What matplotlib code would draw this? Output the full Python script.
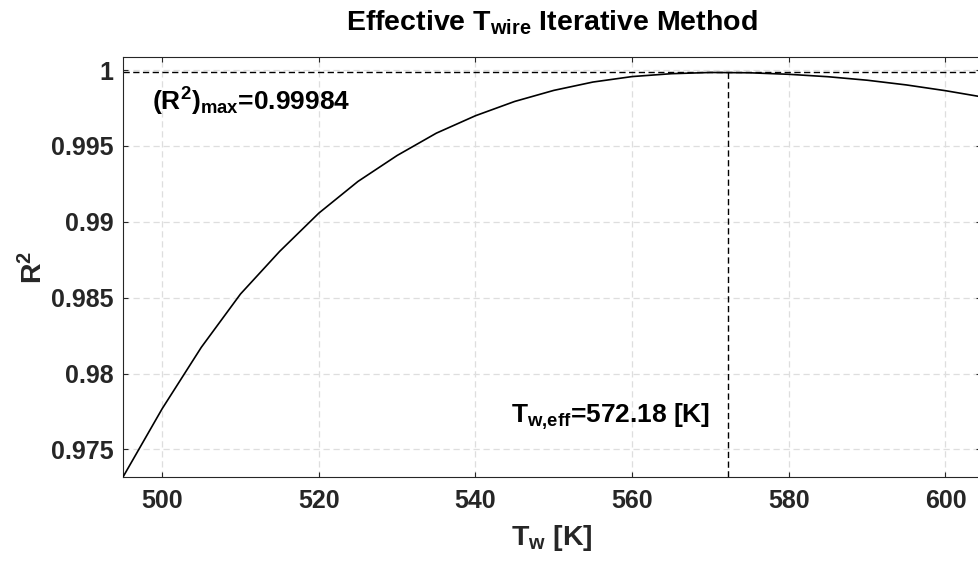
import matplotlib
matplotlib.use("Agg")
import matplotlib.pyplot as plt

# values (every 5 K)
t_wire = [495, 500, 505, 510, 515, 520, 525, 530, 535, 540, 545, 550,
          555, 560, 565, 570, 575, 580, 585, 590, 595, 600, 605]
r2 = [0.97318, 0.97768, 0.98173, 0.98524, 0.98805, 0.99057, 0.99266,
      0.99437, 0.99584, 0.99699, 0.99793, 0.99866, 0.99921, 0.99957,
      0.99976, 0.99984, 0.99982, 0.99972, 0.99956, 0.99933, 0.99902,
      0.99864, 0.99820]
t_eff = 572.18
r2_max = 0.99984
x_ticks = [500, 520, 540, 560, 580, 600]
y_ticks = [0.975, 0.98, 0.985, 0.99, 0.995, 1.0]
y_ticklabels = ["0.975", "0.98", "0.985", "0.99", "0.995", "1"]

plt.rcParams["font.family"] = ["Liberation Sans", "DejaVu Sans"]
plt.rcParams["font.weight"] = "bold"
plt.rcParams["axes.labelweight"] = "bold"
plt.rcParams["axes.titleweight"] = "bold"
plt.rcParams["mathtext.fontset"] = "custom"
plt.rcParams["mathtext.rm"] = "Liberation Sans:bold"
plt.rcParams["mathtext.bf"] = "Liberation Sans:bold"
plt.rcParams["mathtext.it"] = "Liberation Sans:bold"

ink = "#262626"
fig = plt.figure(figsize=(9.79, 5.63), dpi=100)
ax = fig.add_axes([123 / 979, 86 / 563, 858.5 / 979, 420 / 563])

ax.plot(t_wire, r2, color="black", lw=1.2, zorder=3)
ax.axhline(r2_max, color="black", lw=1.0, ls=(0, (4.5, 2.5)), zorder=2)
ax.plot([t_eff, t_eff], [r2[0], r2_max], color="black", lw=1.0,
        ls=(0, (4.5, 2.5)), zorder=2)

ax.set_xlim(495, 604.6)
ax.set_ylim(r2[0], 1.00086)
ax.set_xticks(x_ticks)
ax.set_yticks(y_ticks)
ax.set_yticklabels(y_ticklabels)

ax.grid(True, color="#dedede", lw=0.9, ls=(0, (5, 3)), zorder=0)
ax.tick_params(direction="in", length=3.6, width=0.8, colors=ink,
               labelsize=18, top=True, right=True)
ax.tick_params(axis="x", pad=9)
ax.tick_params(axis="y", pad=7)
for s in ax.spines.values():
    s.set_color(ink)
    s.set_linewidth(0.8)

ax.text(498.7, 0.99736, r"(R$^{2}$)$_{\mathrm{max}}$=0.99984", fontsize=19,
        ha="left", va="baseline", color="black")
ax.annotate(r"T$_{\mathrm{w{,}eff}}$=572.18 [K]", xy=(t_eff, 0.97675),
            xytext=(-12.7, 0), textcoords="offset points", fontsize=19,
            ha="right", va="baseline", color="black")

ax.set_xlabel(r"T$_{\mathrm{w}}$ [K]", fontsize=20.5, color=ink, labelpad=7)
ax.set_ylabel(r"R$^{2}$", fontsize=20.5, color=ink, labelpad=2)
ax.set_title(r"Effective T$_{\mathrm{wire}}$ Iterative Method", fontsize=20.5,
             pad=19)

fig.savefig("out.png", dpi=100)
